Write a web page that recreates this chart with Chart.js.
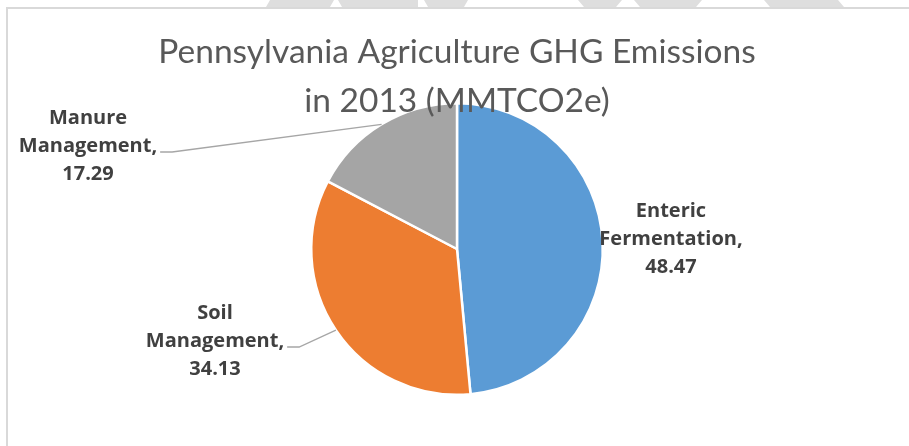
<!DOCTYPE html>
<html>
<head>
<meta charset="utf-8">
<script src="https://cdn.jsdelivr.net/npm/chart.js@4.4.1/dist/chart.umd.min.js"></script>
<style>
  html, body { margin: 0; padding: 0; background: #ffffff; }
  #wrap { position: relative; width: 909px; height: 446px; overflow: hidden; }
  .wm { position: absolute; top: 0; height: 7px; background: #dedede; }
  #frame { position: absolute; left: 6px; top: 7px; width: 940px; height: 480px;
           border: 2px solid #d9d9d9; box-sizing: border-box; background: #fff; }
  #chart { position: absolute; left: 0; top: 0; }
</style>
</head>
<body>
<div id="wrap">
  <div class="wm" style="left:266px;width:68px;clip-path:polygon(4px 0,100% 0,calc(100% - 4px) 100%,0 100%)"></div>
  <div class="wm" style="left:338px;width:80px;clip-path:polygon(0 0,100% 0,calc(100% + 0px) 100%,4px 100%)"></div>
  <div class="wm" style="left:424px;width:44px;clip-path:polygon(0 0,100% 0,calc(100% - 4px) 100%,4px 100%)"></div>
  <div class="wm" style="left:578px;width:44px;clip-path:polygon(0 0,100% 0,calc(100% - 6px) 100%,6px 100%)"></div>
  <div class="wm" style="left:634px;width:68px;clip-path:polygon(0 0,100% 0,calc(100% - 6px) 100%,6px 100%)"></div>
  <div class="wm" style="left:764px;width:80px;clip-path:polygon(0 0,calc(100% - 6px) 0,100% 100%,6px 100%)"></div>
  <div id="frame"></div>
  <canvas id="chart" width="909" height="446"></canvas>
</div>
<script>
// data
const categories = ["Enteric Fermentation", "Soil Management", "Manure Management"];
const emissions = [48.47, 34.13, 17.29];
const titleLines = ["Pennsylvania Agriculture GHG Emissions", "in 2013 (MMTCO2e)"];

const sliceColours = ["#5B9BD5", "#ED7D31", "#A5A5A5"];

// where each data label sits, relative to the pie centre, in px
const labelPlace = [
  { dx: 214, dy: -10, leader: false },
  { dx: -242, dy: 92, leader: true },
  { dx: -369, dy: -103, leader: true }
];

const labelFont = "bold 20px 'Open Sans'";
const labelLineH = 28;

// draws the title and the Excel style data labels
const excelBits = {
  id: "excelBits",
  afterDraw(chart) {
    const ctx = chart.ctx;
    const meta = chart.getDatasetMeta(0);
    ctx.save();

    // title
    ctx.fillStyle = "#595959";
    ctx.font = "normal 33.5px Lato";
    ctx.textAlign = "center";
    ctx.textBaseline = "alphabetic";
    ctx.fillText(titleLines[0], 457, 63);
    ctx.fillText(titleLines[1], 457, 112);

    // data labels
    ctx.font = labelFont;
    meta.data.forEach(function(arc, i) {
      let p = arc.getProps(["x", "y", "startAngle", "endAngle", "outerRadius"], true);
      let words = categories[i].split(" ");
      let lines = [words[0], words.slice(1).join(" ") + ",", emissions[i].toFixed(2)];
      let cx = p.x + labelPlace[i].dx;
      let cy = p.y + labelPlace[i].dy;

      if (labelPlace[i].leader) {
        let mid = (p.startAngle + p.endAngle) / 2;
        let ex = p.x + Math.cos(mid) * p.outerRadius;
        let ey = p.y + Math.sin(mid) * p.outerRadius;
        let half = ctx.measureText(lines[1]).width / 2;
        let ly = cy + 6;
        let lx = cx + half + 3;
        ctx.strokeStyle = "#a6a6a6";
        ctx.lineWidth = 1.3;
        ctx.beginPath();
        ctx.moveTo(lx, ly);
        ctx.lineTo(lx + 12, ly);
        ctx.lineTo(ex, ey);
        ctx.stroke();
      }

      ctx.fillStyle = "#404040";
      ctx.textAlign = "center";
      ctx.textBaseline = "middle";
      for (let k = 0; k < lines.length; k++)
        ctx.fillText(lines[k], cx, cy + (k - 1) * labelLineH);
    });
    ctx.restore();
  }
};

new Chart(document.getElementById("chart"), {
  type: "pie",
  data: {
    labels: categories,
    datasets: [{
      data: emissions,
      backgroundColor: sliceColours,
      borderColor: "#ffffff",
      borderWidth: 2.5
    }]
  },
  options: {
    responsive: false,
    animation: false,
    layout: { padding: { top: 102, bottom: 50, left: 5, right: 0 } },
    plugins: {
      legend: { display: false },
      title: { display: false },
      tooltip: { enabled: false }
    }
  },
  plugins: [excelBits]
});
</script>
</body>
</html>
